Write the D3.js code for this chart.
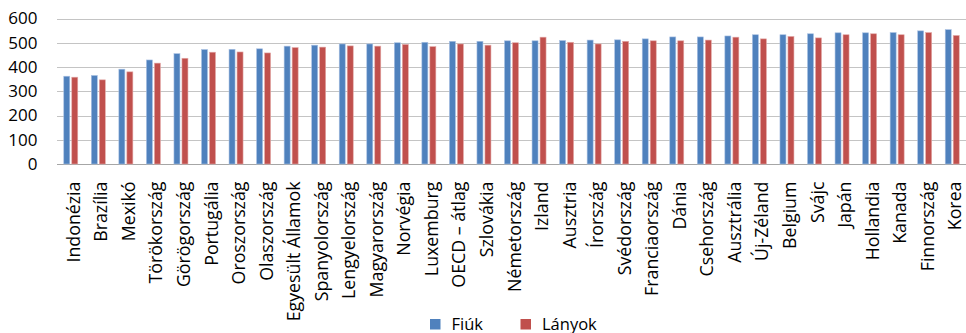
<!DOCTYPE html>
<html>
<head>
<meta charset="utf-8">
<script src="https://cdn.jsdelivr.net/npm/d3@7"></script>
<style>
  html, body { margin: 0; padding: 0; background: #fff; }
  svg { display: block; font-family: "Open Sans", "Noto Sans", sans-serif; }
</style>
</head>
<body>
<svg id="chart" width="966" height="333"></svg>
<script>
// Countries, in order of the boys' score
const countries = ["Indonézia", "Brazília", "Mexikó", "Törökország", "Görögország", "Portugália",
  "Oroszország", "Olaszország", "Egyesült Államok", "Spanyolország", "Lengyelország", "Magyarország",
  "Norvégia", "Luxemburg", "OECD – átlag", "Szlovákia", "Németország", "Izland", "Ausztria",
  "Írország", "Svédország", "Franciaország", "Dánia", "Csehország", "Ausztrália", "Új-Zéland",
  "Belgium", "Svájc", "Japán", "Hollandia", "Kanada", "Finnország", "Korea"];

const fiuk = [362, 365, 391, 429, 455, 472, 473, 475, 486, 490, 495, 495, 500, 502, 506, 506,
  508, 508, 509, 511, 512, 516, 524, 524, 528, 533, 533, 537, 541, 541, 542, 549, 554];

const lanyok = [358, 347, 380, 416, 436, 461, 462, 458, 480, 482, 487, 486, 493, 484, 495, 490,
  500, 523, 502, 495, 506, 508, 508, 511, 523, 516, 526, 520, 533, 537, 533, 542, 530];

const seriesNames = ["Fiúk", "Lányok"];
const seriesColors = ["#4f81bd", "#c0504d"];
const yTicks = [0, 100, 200, 300, 400, 500, 600];

const svg = d3.select("#chart");
const plot = { left: 57, right: 966, top: 18.5, bottom: 164 };

const x = d3.scaleBand().domain(countries).range([plot.left, plot.right]).paddingInner(0).paddingOuter(0);
const y = d3.scaleLinear().domain([0, 600]).range([plot.bottom, plot.top]);

// horizontal gridlines
svg.append("g")
  .selectAll("line")
  .data(yTicks)
  .join("line")
  .attr("x1", plot.left).attr("x2", plot.right)
  .attr("y1", d => Math.round(y(d)) + 0.5).attr("y2", d => Math.round(y(d)) + 0.5)
  .attr("stroke", d => d === 0 ? "#a6a6a6" : "#c4c4c4")
  .attr("stroke-width", 1);

// y-axis labels
const yAxis = d3.axisLeft(y).tickValues(yTicks).tickSize(0).tickPadding(0).tickFormat(d3.format("d"));
svg.append("g")
  .attr("transform", `translate(37.5,0)`)
  .call(yAxis)
  .call(g => g.select(".domain").remove())
  .call(g => g.selectAll("text")
    .attr("font-size", 17)
    .attr("font-family", "'Open Sans', sans-serif")
    .attr("fill", "#000"));

// bars
const barW = 6, gap = 2;
const groups = svg.append("g")
  .selectAll("g")
  .data(countries)
  .join("g")
  .attr("transform", d => `translate(${x(d) + x.bandwidth() / 2},0)`);

[fiuk, lanyok].forEach((vals, si) => {
  groups.append("rect")
    .attr("x", si === 0 ? -barW - gap / 2 : gap / 2)
    .attr("width", barW)
    .attr("y", (d, i) => y(vals[i]))
    .attr("height", (d, i) => y(0) - y(vals[i]))
    .attr("fill", seriesColors[si])
    .attr("stroke", si === 0 ? "#a9c1e3" : "#e3a9a8")
    .attr("stroke-width", 0.6);
});

// category labels, rotated
svg.append("g")
  .selectAll("text")
  .data(countries)
  .join("text")
  .attr("transform", d => `translate(${x(d) + x.bandwidth() / 2 + 9},181.5) rotate(-90)`)
  .attr("text-anchor", "end")
  .attr("font-size", 17.8)
  .attr("fill", "#000")
  .text(d => d);

// legend
const legendItems = [{ name: seriesNames[0], color: seriesColors[0], x: 430 },
                     { name: seriesNames[1], color: seriesColors[1], x: 520.5 }];
const lg = svg.append("g")
  .selectAll("g")
  .data(legendItems)
  .join("g")
  .attr("transform", d => `translate(${d.x},319)`);
lg.append("rect").attr("width", 10.5).attr("height", 10.5).attr("fill", d => d.color);
lg.append("text")
  .attr("x", 21.5).attr("y", 10.5)
  .attr("font-size", 16.5)
  .attr("fill", "#000")
  .text(d => d.name);
</script>
</body>
</html>
